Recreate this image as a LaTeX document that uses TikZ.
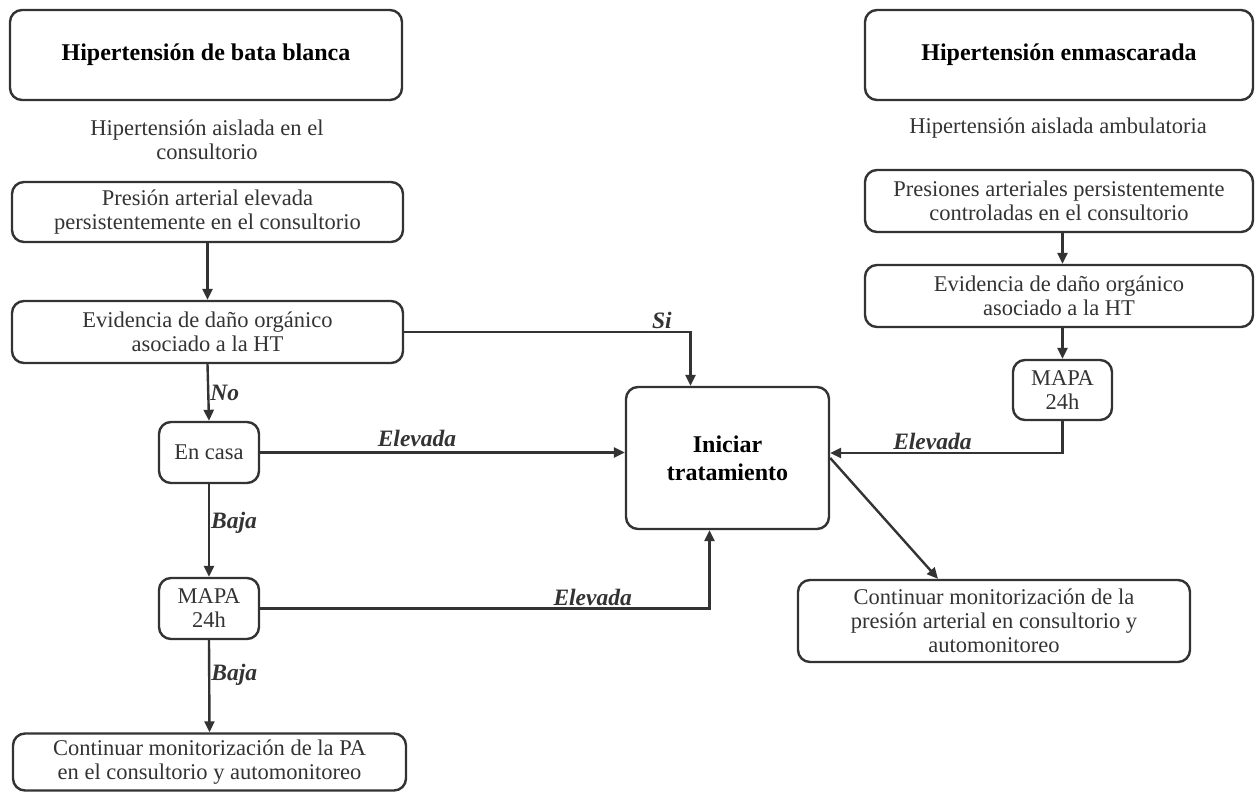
\documentclass[tikz,border=0pt]{standalone}
\usepackage{fontspec}
\setmainfont{Liberation Serif}
\usetikzlibrary{arrows.meta}
\definecolor{ink}{HTML}{333333}
\begin{document}
\begin{tikzpicture}[x=1pt,y=-1pt,
  box/.style={draw=ink,line width=2.4pt,rounded corners=12pt,rectangle,align=center,inner sep=0pt,font=\fontsize{22.5}{24}\selectfont,text=ink},
  title/.style={box,font=\fontsize{24}{28}\selectfont\bfseries,text=black},
  plain/.style={align=center,inner sep=0pt,font=\fontsize{22.5}{24}\selectfont,text=ink},
  lab/.style={font=\fontsize{23.5}{24}\selectfont\bfseries\itshape,text=ink,inner sep=2pt},
  arr/.style={draw=ink,line width=2.4pt,-{Triangle[length=11pt,width=10pt]}}]
\useasboundingbox (0,0) rectangle (1255,792);
% left column
\node[title,minimum width=392,minimum height=90] (t1) at (206,55) {Hipertensión de bata blanca};
\node[plain] (s1) at (207,140) {Hipertensión aislada en el\\consultorio};
\node[box,minimum width=391,minimum height=60] (p1) at (207.5,212) {Presión arterial elevada\\persistentemente en el consultorio};
\node[box,minimum width=391,minimum height=62] (e1) at (207.5,332) {Evidencia de daño orgánico\\asociado a la HT};
\node[box,minimum width=100,minimum height=61] (casa) at (209,452.5) {En casa};
\node[box,minimum width=100,minimum height=61] (m1) at (209,608.5) {MAPA\\24h};
\node[box,minimum width=393,minimum height=57] (c1) at (209.5,762) {Continuar monitorización de la PA\\en el consultorio y automonitoreo};
% centre
\node[title,minimum width=203,minimum height=142,font=\fontsize{24}{28}\selectfont\bfseries] (ini) at (727.5,458) {Iniciar\\tratamiento};
% right column
\node[title,minimum width=388,minimum height=90] (t2) at (1059,55) {Hipertensión enmascarada};
\node[plain] (s2) at (1058,128) {Hipertensión aislada ambulatoria};
\node[box,minimum width=388,minimum height=62] (p2) at (1059,201) {Presiones arteriales persistentemente\\controladas en el consultorio};
\node[box,minimum width=388,minimum height=62] (e2) at (1059,296) {Evidencia de daño orgánico\\asociado a la HT};
\node[box,minimum width=99,minimum height=60] (m2) at (1062.5,390) {MAPA\\24h};
\node[box,minimum width=392,minimum height=82] (c2) at (994,621) {Continuar monitorización de la\\presión arterial en consultorio y\\automonitoreo};
% connectors
\draw[arr] (p1.south) -- (e1.north);
\draw[arr] (e1.east) -| ([xshift=-37pt]ini.north) node[lab,pos=0.45,above] (lsi) {Si};
\draw[arr] (e1.south) -- (casa.north) node[lab,midway,right,inner sep=1pt] (lno) {No};
\draw[arr] (casa.east) -- (casa.east -| ini.west) node[lab,pos=0.43,above=3pt] (lel1) {Elevada};
\draw[arr] (casa.south) -- (m1.north) node[lab,pos=0.42,right,inner sep=1pt] (lb1) {Baja};
\draw[arr] (m1.east) -| ([xshift=-18pt]ini.south) node[lab,pos=0.37,above] (lel2) {Elevada};
\draw[arr] (m1.south) -- (c1.north) node[lab,pos=0.38,right,inner sep=1pt] (lb2) {Baja};
\draw[arr] (p2.south -| m2.north) -- (e2.north -| m2.north);
\draw[arr] (e2.south -| m2.north) -- (m2.north);
\draw[arr] (m2.south) |- ([yshift=5pt]ini.east) node[lab,pos=0.78,above] (lel3) {Elevada};
\draw[arr] (ini.east) -- ([xshift=-56pt]c2.north);
\end{tikzpicture}
\end{document}
